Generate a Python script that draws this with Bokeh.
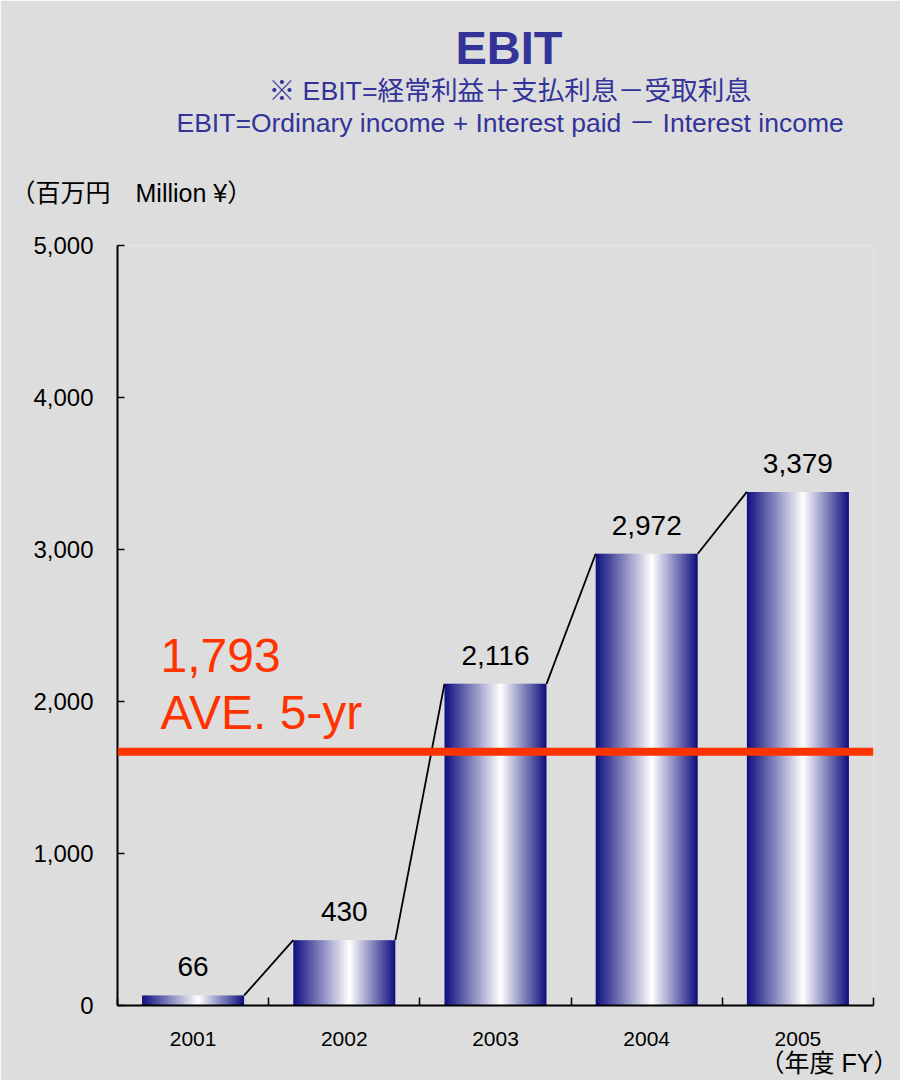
import numpy as np
from bokeh.plotting import figure
from bokeh.models import (ColumnDataSource, LabelSet, Label, Span, FixedTicker,
                          NumeralTickFormatter, Range1d, Title)
from bokeh.embed import file_html
from bokeh.resources import INLINE
from bokeh.core.properties import value

# ---------------- data ----------------
years = ["2001", "2002", "2003", "2004", "2005"]
ebit = [66, 430, 2116, 2972, 3379]
value_labels = ["66", "430", "2,116", "2,972", "3,379"]
avg_line = 1670          # where the average line is drawn in the picture
avg_label = "1,793"
avg_caption = "AVE. 5-yr"
y_ticks = [0, 1000, 2000, 3000, 4000, 5000]
title_text = "EBIT"
subtitle_jp = "※ EBIT=経常利益＋支払利息－受取利息"
subtitle_en = "EBIT=Ordinary income + Interest paid － Interest income"
unit_text = "（百万円　Million ¥）"
fy_text = "（年度 FY）"

# ---------------- styling ----------------
BG = "#DDDDDD"
NAVY = np.array([14, 14, 126], dtype=float)
WHITE = np.array([255, 255, 255], dtype=float)
FONT = "Liberation Sans, Noto Sans CJK JP"
BAR_W = 0.675
N_STRIPS = 48
WHITE_POS = 0.55
TITLE_BLUE = "#333399"

xs = list(range(1, len(years) + 1))

p = figure(width=900, height=1080, output_backend="svg", toolbar_location=None,
           x_range=Range1d(0.5, len(years) + 0.5), y_range=Range1d(0, 5000),
           min_border_left=117, min_border_right=27, min_border_top=245,
           min_border_bottom=75, background_fill_color=BG, border_fill_color=BG,
           outline_line_color=None)
p.grid.visible = False

# gradient bars built from vertical strips
lefts, rights, tops, colors = [], [], [], []
sw = BAR_W / N_STRIPS
for x, v in zip(xs, ebit):
    x0 = x - BAR_W / 2
    for k in range(N_STRIPS):
        t = (k + 0.5) / N_STRIPS
        s = t / WHITE_POS if t <= WHITE_POS else (1 - t) / (1 - WHITE_POS)
        c = NAVY + (WHITE - NAVY) * s
        lefts.append(x0 + k * sw)
        rights.append(x0 + (k + 1) * sw + (sw * 0.35 if k < N_STRIPS - 1 else 0))
        tops.append(v)
        colors.append("#%02x%02x%02x" % tuple(int(round(a)) for a in c))
strip_src = ColumnDataSource(dict(left=lefts, right=rights, top=tops,
                                  bottom=[0] * len(tops), color=colors))
p.quad(left="left", right="right", top="top", bottom="bottom", fill_color="color",
       line_color=None, source=strip_src)

# connector lines between bar tops
x0s = [x + BAR_W / 2 for x in xs[:-1]]
x1s = [x - BAR_W / 2 for x in xs[1:]]
p.segment(x0=x0s, y0=ebit[:-1], x1=x1s, y1=ebit[1:], line_color="black", line_width=1.8)

# value labels
lab_src = ColumnDataSource(dict(x=xs, y=ebit, text=value_labels))
p.add_layout(LabelSet(x="x", y="y", text="text", source=lab_src, text_align="center",
                      text_baseline="alphabetic", y_offset=19, text_font_size="28px",
                      text_font=value(FONT), text_color="black"))

# average line
p.add_layout(Span(location=avg_line, dimension="width", line_color="#FF3300", line_width=8))
p.add_layout(Label(x=0.5, y=avg_line, x_offset=43, y_offset=96, text=avg_label,
                   text_font_size="48px", text_color="#FF3300", text_font=FONT,
                   text_baseline="alphabetic"))
p.add_layout(Label(x=0.5, y=avg_line, x_offset=43, y_offset=39, text=avg_caption,
                   text_font_size="48px", text_color="#FF3300", text_font=FONT,
                   text_baseline="alphabetic"))

# titles (stacked outward from the frame)
p.add_layout(Title(text=unit_text, align="left", offset=-107, standoff=78,
                   text_font_size="25px", text_color="black", text_font=FONT,
                   text_font_style="normal"), "above")
p.add_layout(Title(text=subtitle_en, align="left", offset=59, standoff=0,
                   text_font_size="26.5px", text_color=TITLE_BLUE, text_font=FONT,
                   text_font_style="normal"), "above")
p.add_layout(Title(text=subtitle_jp, align="left", offset=151, standoff=0,
                   text_font_size="26.7px", text_color=TITLE_BLUE, text_font=FONT,
                   text_font_style="normal"), "above")
p.add_layout(Title(text=title_text, align="left", offset=338, standoff=0,
                   text_font_size="47px", text_color=TITLE_BLUE, text_font=FONT,
                   text_font_style="bold"), "above")
p.add_layout(Title(text=fy_text, align="right", offset=-25, standoff=0,
                   vertical_align="top",
                   text_font_size="25px", text_color="black", text_font=FONT,
                   text_font_style="normal"), "below")

# axes
xa = p.xaxis[0]
xa.ticker = FixedTicker(ticks=xs, minor_ticks=[x + 0.5 for x in [0] + xs])
xa.major_label_overrides = {x: y for x, y in zip(xs, years)}
xa.major_tick_line_color = None
xa.minor_tick_in = 8
xa.minor_tick_out = 0
xa.minor_tick_line_width = 1.5
xa.minor_tick_line_color = "black"
xa.axis_line_width = 2
xa.axis_line_color = "black"
xa.major_label_text_font_size = "21px"
xa.major_label_text_font = FONT
xa.major_label_text_color = "black"
xa.major_label_standoff = 20

ya = p.yaxis[0]
ya.ticker = FixedTicker(ticks=y_ticks)
ya.formatter = NumeralTickFormatter(format="0,0")
ya.major_tick_in = 7
ya.major_tick_out = 0
ya.major_tick_line_width = 1.5
ya.minor_tick_line_color = None
ya.axis_line_width = 2
ya.axis_line_color = "black"
ya.major_label_text_font_size = "24px"
ya.major_label_text_font = FONT
ya.major_label_text_color = "black"
ya.major_label_standoff = 24

open("out.html", "w").write(file_html(p, INLINE))
